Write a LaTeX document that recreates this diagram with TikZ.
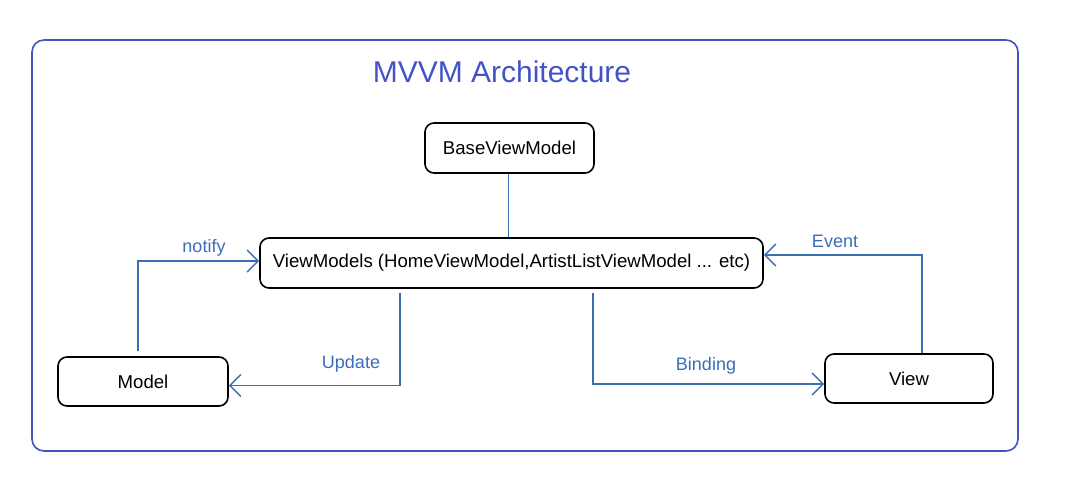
\documentclass[tikz,border=0pt]{standalone}
\usepackage{fontspec}
\setmainfont{Liberation Sans}
\usetikzlibrary{arrows.meta}
\definecolor{framecol}{RGB}{67,83,198}
\definecolor{linkcol}{RGB}{59,109,181}
\tikzset{
  box/.style={draw=black, line width=1.6pt, rounded corners=9pt, fill=white,
    inner sep=0pt, font=\fontsize{18.6}{20}\selectfont},
  link/.style={draw=linkcol, line width=1.5pt},
  arr/.style={link, -{Straight Barb[length=11pt,width=22pt,line width=1.5pt]}},
  lbl/.style={text=linkcol, inner sep=0pt, font=\fontsize{18}{20}\selectfont},
}
\begin{document}
\begin{tikzpicture}[x=1pt,y=-1pt]
\useasboundingbox (0,0) rectangle (1081,495);
\draw[framecol, line width=1.6pt, rounded corners=12pt] (32,40) rectangle (1018,451);
\node[text=framecol, font=\fontsize{30}{32}\selectfont, inner sep=0pt] (title) at (502,72) {MVVM Architecture};

\node[box, minimum width=169pt, minimum height=50pt] (base) at (509.5,148) {BaseViewModel};
\node[box, minimum width=503pt, minimum height=50pt] (vm) at (511.5,263) {ViewModels (HomeViewModel,ArtistListViewModel ... etc)};
\node[box, minimum width=170pt, minimum height=49pt] (model) at (143,381.5) {Model};
\node[box, minimum width=168pt, minimum height=49pt] (view) at (909,378.5) {View};

\draw[link, line width=1.2pt] ([xshift=-1pt]base.south) -- ([xshift=-1pt]base.south |- vm.north);
\draw[arr] ([shift={(-5,-5)}]model.north) |- ([yshift=2pt]vm.west);
\draw[arr] ([shift={(-111.5,4)}]vm.south) |- ([yshift=-4pt]model.east);
\draw[arr] ([shift={(81.5,4)}]vm.south) |- ([yshift=-5.5pt]view.west);
\draw[arr] ([xshift=13pt]view.north) |- ([yshift=8pt]vm.east);

\node[lbl] (lnotify) at (204,248) {notify};
\node[lbl] (lupdate) at (351,364) {Update};
\node[lbl] (lbinding) at (706,366) {Binding};
\node[lbl] (levent) at (835,241) {Event};
\end{tikzpicture}
\end{document}
